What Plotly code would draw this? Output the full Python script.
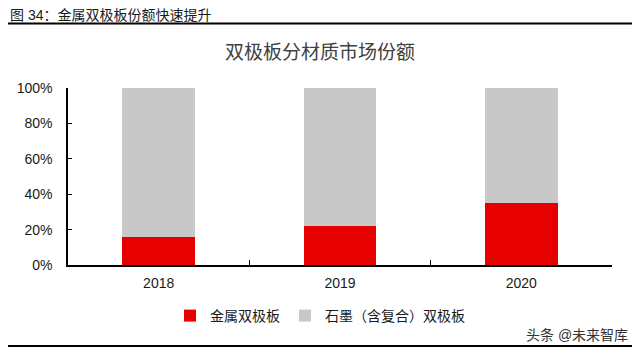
import plotly.graph_objects as go

categories = ["2018", "2019", "2020"]
metal = [16, 22, 35]
graphite = [84, 78, 65]
series_names = ["金属双极板", "石墨（含复合）双极板"]
tick_vals = [0, 20, 40, 60, 80, 100]
tick_text = ["0%", "20%", "40%", "60%", "80%", "100%"]

FONT = "Liberation Sans, Noto Sans CJK SC, sans-serif"

# figure sized to fit the page's default 8px body margin
W, H = 632, 347
L, R, T, B = 60, 28, 80, 90
PW, PH = W - L - R, H - T - B


def px(xf):
    return (xf - L) / PW


def py(yf):
    return (H - B - yf) / PH


fig = go.Figure()
fig.add_trace(go.Bar(x=categories, y=metal, name=series_names[0],
                     marker=dict(color="#e60000", line=dict(width=0)), width=0.4))
fig.add_trace(go.Bar(x=categories, y=graphite, name=series_names[1],
                     marker=dict(color="#c8c8c8", line=dict(width=0)), width=0.4))

fig.update_layout(
    barmode="stack",
    width=W, height=H,
    margin=dict(l=L, r=R, t=T, b=B, autoexpand=False),
    paper_bgcolor="white", plot_bgcolor="white",
    font=dict(family=FONT, color="#1a1a1a", size=14),
    showlegend=True,
    legend=dict(orientation="h", x=px(162), xanchor="left", y=py(308), yanchor="middle",
                font=dict(size=14, color="#1a1a1a"), traceorder="normal",
                itemwidth=30, bgcolor="rgba(0,0,0,0)"),
    xaxis=dict(showline=True, linecolor="black", linewidth=1.5, ticks="inside",
               tickson="boundaries", ticklen=5, tickcolor="black",
               tickfont=dict(size=14, color="#1a1a1a"), showgrid=False,
               ticklabelstandoff=4, fixedrange=True),
    yaxis=dict(range=[0, 100], tickvals=tick_vals, ticktext=tick_text,
               showline=True, linecolor="black", linewidth=1.5, ticks="inside",
               ticklen=4, tickcolor="black", showgrid=False,
               tickfont=dict(size=14, color="#1a1a1a"), zeroline=False,
               ticklabelstandoff=11, fixedrange=True),
)

fig.add_annotation(text="双极板分材质市场份额", xref="paper", yref="paper",
                   x=px(312), y=py(44), xanchor="center", yanchor="middle",
                   showarrow=False, font=dict(size=19, color="#404040", family=FONT))
fig.add_annotation(text="图 34：金属双极板份额快速提升", xref="paper", yref="paper",
                   x=px(0), y=py(6.5), xanchor="left", yanchor="middle",
                   showarrow=False, font=dict(size=14, color="#1a1a1a", family=FONT))
fig.add_annotation(text="头条 @未来智库", xref="paper", yref="paper",
                   x=px(622), y=py(327), xanchor="right", yanchor="middle",
                   showarrow=False, font=dict(size=14, color="#333333", family=FONT))
fig.add_shape(type="line", xref="paper", yref="paper",
              x0=px(0), x1=px(624), y0=py(15.5), y1=py(15.5),
              line=dict(color="black", width=2))
fig.add_shape(type="line", xref="paper", yref="paper",
              x0=px(0), x1=px(624), y0=py(338), y1=py(338),
              line=dict(color="black", width=2))

fig.write_html("out.html")
